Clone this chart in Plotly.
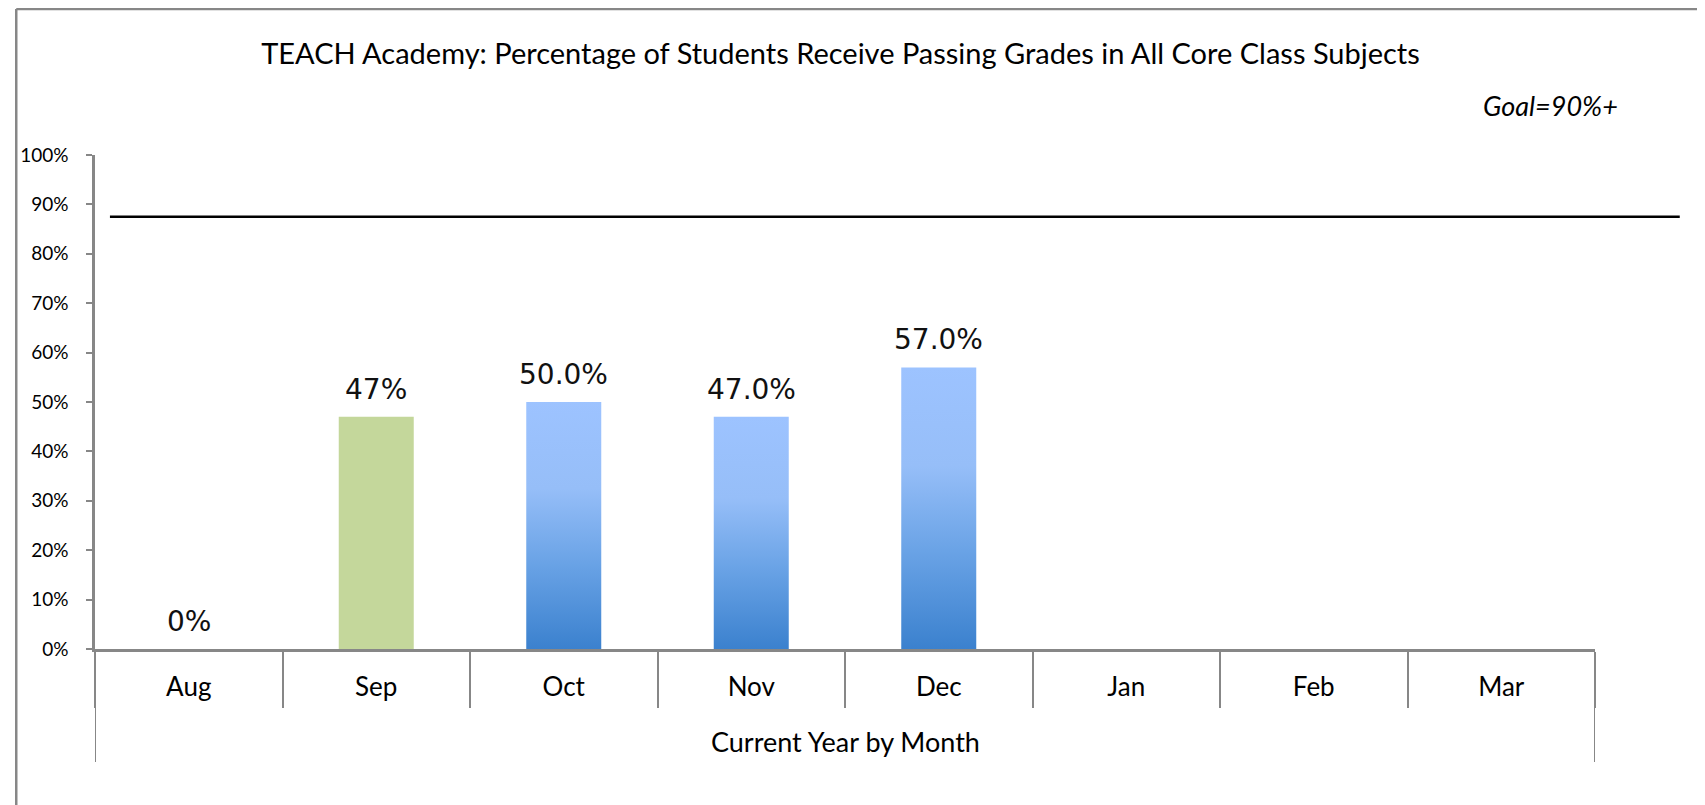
import plotly.graph_objects as go

# data
months = ["Aug", "Sep", "Oct", "Nov", "Dec", "Jan", "Feb", "Mar"]
pct_passing = [0, 47, 50.0, 47.0, 57.0]
pct_labels = ["0%", "47%", "50.0%", "47.0%", "57.0%"]
goal_line_level = 87.5  # the drawn goal line sits a little under 90%
goal_text = "Goal=90%+"
title_text = "TEACH Academy: Percentage of Students Receive Passing Grades in All Core Class Subjects"
x_title = "Current Year by Month"

GREEN = "#C4D79B"
GRAY = "#878787"
BLUE_SCALE = [[0, "#3B81CE"], [0.35, "#6AA3E6"], [0.65, "#96BEF8"], [1, "#9DC3FF"]]
BAR_W = 0.4
FONT = "Lato"

fig = go.Figure()

# first two months as a plain bar trace (Aug is zero, Sep green)
fig.add_trace(go.Bar(
    x=list(range(2)), y=pct_passing[:2], width=BAR_W,
    marker=dict(color=GREEN, line=dict(width=0)),
    hoverinfo="skip", showlegend=False,
))

# gradient bars Oct-Dec (scatter fill, since bars can't take gradients)
for i in range(2, len(pct_passing)):
    v = pct_passing[i]
    fig.add_trace(go.Scatter(
        x=[i - BAR_W / 2, i + BAR_W / 2, i + BAR_W / 2, i - BAR_W / 2, i - BAR_W / 2],
        y=[0, 0, v, v, 0],
        mode="lines", line=dict(width=0), fill="toself",
        fillgradient=dict(type="vertical", colorscale=BLUE_SCALE),
        hoverinfo="skip", showlegend=False,
    ))

# invisible trace to carry the month label axis
fig.add_trace(go.Scatter(x=list(range(len(months))), y=[None] * len(months),
                         xaxis="x2", mode="markers", showlegend=False, hoverinfo="skip"))

# value labels above the bars
for i, (v, lab) in enumerate(zip(pct_passing, pct_labels)):
    fig.add_annotation(x=i, y=v, text=lab, showarrow=False, yanchor="bottom", yshift=9,
                       font=dict(family="DejaVu Sans", size=28, color="#111111"))

# goal line
fig.add_shape(type="line", xref="paper", yref="y", x0=0.00996, x1=1.0565,
              y0=goal_line_level, y1=goal_line_level, line=dict(color="black", width=2.5))
fig.add_annotation(xref="paper", yref="paper", x=1.0166, y=1.101, xanchor="right", yanchor="middle",
                   text="<i>" + goal_text + "</i>", showarrow=False,
                   font=dict(family=FONT, size=27, color="black"))

# x axis title
fig.add_annotation(xref="paper", yref="paper", x=0.5, y=-0.187, yanchor="middle",
                   text=x_title, showarrow=False, font=dict(family=FONT, size=27, color="black"))

# outer category dividers run down past the month labels
for xv in (-0.5, len(months) - 0.5):
    fig.add_shape(type="line", xref="x", yref="paper", x0=xv, x1=xv, y0=0, y1=-0.2287,
                  line=dict(color=GRAY, width=2))

# chart frame (top and left edge)
fig.add_shape(type="line", xref="paper", yref="paper", x0=-0.0525, x1=1.08, y0=1.2955, y1=1.2955,
              line=dict(color=GRAY, width=2.5))
fig.add_shape(type="line", xref="paper", yref="paper", x0=-0.0525, x1=-0.0525, y0=1.2955, y1=-0.33,
              line=dict(color=GRAY, width=2.5))

fig.update_layout(
    width=1705, height=805,
    margin=dict(l=81, r=118, t=147, b=164),
    paper_bgcolor="white", plot_bgcolor="white",
    font=dict(family=FONT, color="black"),
    title=dict(text=title_text, xref="paper", x=0.497, xanchor="center",
               y=0.943, yanchor="middle", font=dict(family=FONT, size=29, color="black")),
    xaxis=dict(range=[-0.5, len(months) - 0.5], tickvals=[k - 0.5 for k in range(len(months) + 1)],
               showticklabels=False, ticks="outside", ticklen=56, tickwidth=2, tickcolor=GRAY,
               showline=True, linecolor=GRAY, linewidth=2.5, showgrid=False, zeroline=False),
    xaxis2=dict(overlaying="x", side="bottom", range=[-0.5, len(months) - 0.5],
                tickvals=list(range(len(months))), ticktext=months, ticks="",
                showline=False, showgrid=False, zeroline=False, ticklabelstandoff=20,
                tickfont=dict(family=FONT, size=26, color="black")),
    yaxis=dict(range=[0, 100], dtick=10, ticksuffix="%", ticks="outside", ticklen=6, tickwidth=2,
               tickcolor=GRAY, showline=True, linecolor=GRAY, linewidth=2.5, showgrid=False,
               zeroline=False, ticklabelstandoff=14, tickfont=dict(family=FONT, size=19, color="black")),
)

fig.write_html("out.html")
